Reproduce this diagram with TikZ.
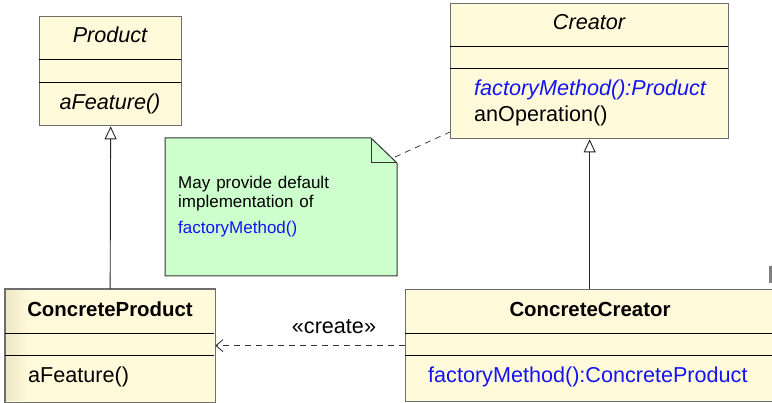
\documentclass[tikz,border=0pt]{standalone}
\usepackage{fontspec}
\setmainfont{Liberation Sans}
\usetikzlibrary{arrows.meta,calc}
\definecolor{umlfill}{RGB}{255,250,218}
\definecolor{umlshade}{RGB}{238,230,196}
\definecolor{umlborder}{RGB}{110,110,110}
\definecolor{notefill}{RGB}{204,255,204}
\definecolor{opblue}{RGB}{20,20,240}
\tikzset{
  umlbox/.style={draw=umlborder, line width=1.3pt, fill=umlfill, rectangle, inner sep=0pt, anchor=north west},
  divider/.style={draw=black, line width=0.9pt},
  txt/.style={inner sep=0pt, font=\fontsize{21.6}{25}\selectfont},
  itxt/.style={inner sep=0pt, font=\fontsize{21.6}{25}\selectfont\itshape},
  btxt/.style={inner sep=0pt, font=\fontsize{20.4}{25}\selectfont\bfseries},
  notetxt/.style={inner sep=0pt, anchor=base west, font=\fontsize{17}{20}\selectfont},
  inherit/.style={draw=black!85, line width=0.9pt, -{Triangle[open, length=13pt, width=12pt, fill=white]}},
  depend/.style={draw=black!80, line width=0.9pt, dash pattern=on 6pt off 5pt, -{Straight Barb[length=7pt, width=12pt]}},
  noteline/.style={draw=black!75, line width=0.8pt, dash pattern=on 6pt off 5pt},
}
\begin{document}
\begin{tikzpicture}[x=1pt, y=-1pt]
\useasboundingbox (0,0) rectangle (772,403);
\clip (0,0) rectangle (772,403);

% Product
\node[umlbox, minimum width=142pt, minimum height=109pt] (product) at (39,16) {};
\draw[divider] (39,59) -- (181,59);
\draw[divider] (39,82) -- (181,82);
\node[itxt, anchor=base] (productname) at (110,43) {Product};
\node[itxt, anchor=base] (productop) at (110,110) {aFeature()};

% Creator
\node[umlbox, minimum width=278pt, minimum height=135pt] (creator) at (450,3) {};
\draw[divider] (450,46) -- (728,46);
\draw[divider] (450,68) -- (728,68);
\node[itxt, anchor=base] (creatorname) at (589,30) {Creator};
\node[itxt, anchor=base west, text=opblue] (creatorfm) at (474,96) {factoryMethod():Product};
\node[txt, anchor=base west] (creatorop) at (474,122) {anOperation()};

% ConcreteProduct
\node[umlbox, draw=none, minimum width=209pt, minimum height=112pt] (cproduct) at (5,289) {};
\shade[left color=umlshade, right color=umlfill] (5,289) rectangle (28,401);
\draw[draw=umlborder, line width=1.3pt] (cproduct.north west) rectangle (cproduct.south east);
\draw[divider] (5,333) -- (214,333);
\draw[divider] (5,355) -- (214,355);
\node[btxt, anchor=base] (cproductname) at (110,317) {ConcreteProduct};
\node[txt, anchor=base west] (cproductop) at (28,383) {aFeature()};

% ConcreteCreator
\node[umlbox, minimum width=370pt, minimum height=112pt] (ccreator) at (405,289) {};
\draw[divider] (405,333) -- (775,333);
\draw[divider] (405,355) -- (775,355);
\node[btxt, anchor=base] (ccreatorname) at (590,317) {ConcreteCreator};
\node[txt, anchor=base west, text=opblue] (ccreatorfm) at (428,383) {factoryMethod():ConcreteProduct};

% partial shape at right edge
\fill[black!50] (769,266) rectangle (775,283);

% Note
\node[inner sep=0pt, minimum width=232pt, minimum height=138pt, anchor=north west] (note) at (165,138) {};
\draw[draw=black!80, line width=1pt, fill=notefill]
  (165,138) -- (371,138) -- (397,163) -- (397,276) -- (165,276) -- cycle;
\draw[draw=black!80, line width=1pt] (371,138) -- (371,163) -- (397,163);
\coordinate (notecorner) at (395,157);
\coordinate (creatorattach) at (450,132);
\node[notetxt] (notel1) at (178,189) {May\hspace{0.35em}provide\hspace{0.35em}default};
\node[notetxt] (notel2) at (178,208) {implementation\hspace{0.35em}of};
\node[notetxt, text=opblue] (notel3) at (178,234) {factoryMethod()};
\draw[noteline] (notecorner) -- (creatorattach);

% Connectors
\draw[inherit] (cproduct.north) -- (product.south);
\draw[inherit] (ccreator.north -| creator.south) -- (creator.south);
\draw[depend] (ccreator.west) -- (cproduct.east);
\node[txt, anchor=base] (createlabel) at (334,334) {«create»};
\end{tikzpicture}
\end{document}
